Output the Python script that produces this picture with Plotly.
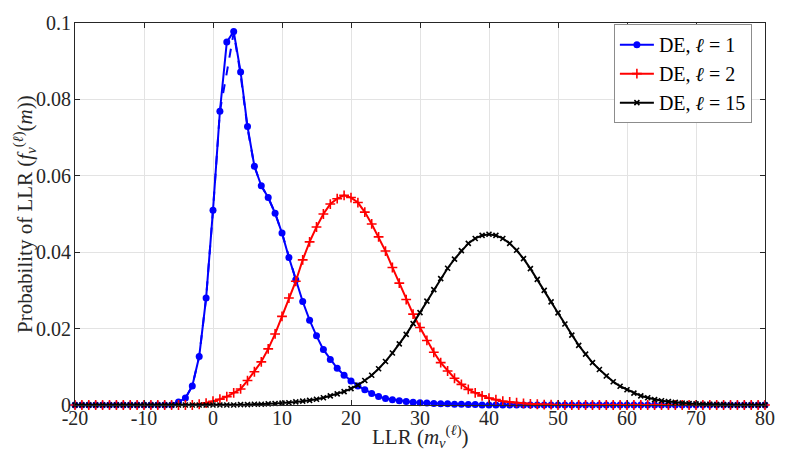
import plotly.graph_objects as go

x_vals = list(range(-20, 81))

blue_l1 = [0]*15 + [
    0.0008, 0.0018, 0.005, 0.0127, 0.028, 0.051, 0.0769, 0.095, 0.0978, 0.0872,
    0.0729, 0.0625, 0.0574, 0.0543, 0.0502, 0.045, 0.0386, 0.0328, 0.0271, 0.0222,
    0.0181, 0.0145, 0.0119, 0.0096, 0.0078, 0.0063, 0.005, 0.004, 0.003, 0.0022,
    0.0017, 0.0014, 0.0011, 0.0009, 0.0007, 0.0006, 0.0005, 0.0004, 0.0003, 0.0003,
    0.0002, 0.0002, 0.0001, 0.0001] + [0]*42

dash_x = list(range(-6, 13))
dash_l1 = [0.0002, 0.0008, 0.0018, 0.005, 0.0127, 0.028, 0.051, 0.0769, 0.087, 0.0975,
           0.0865, 0.0725, 0.0625, 0.0574, 0.0543, 0.0502, 0.045, 0.0386, 0.0328]

red_l2 = [0]*18 + [
    0.0002, 0.0005, 0.0010, 0.0015, 0.0022, 0.0032, 0.0042, 0.0064, 0.0087, 0.0113,
    0.0147, 0.0186, 0.0232, 0.028, 0.0324, 0.038, 0.0427, 0.0466, 0.05, 0.0526,
    0.054, 0.0549, 0.0543, 0.053, 0.0505, 0.0474, 0.044, 0.0403, 0.036, 0.0319,
    0.0276, 0.0238, 0.0203, 0.0169, 0.0138, 0.0111, 0.0089, 0.007, 0.0054, 0.0041,
    0.0032, 0.0024, 0.0018, 0.0014, 0.001, 0.0008, 0.0006, 0.0004, 0.0003, 0.0002,
    0.0001, 0.0001] + [0]*31

black_l15 = [0]*24 + [
    0.0001, 0.0001, 0.0002, 0.0002, 0.0003, 0.0004, 0.0005, 0.0006, 0.0008, 0.001,
    0.0012, 0.0015, 0.0019, 0.0024, 0.0029, 0.0035, 0.0043, 0.0052, 0.0064, 0.0078,
    0.0095, 0.0114, 0.0136, 0.016, 0.0185, 0.0213, 0.0242, 0.0272, 0.0302, 0.0331,
    0.0358, 0.0382, 0.0404, 0.0423, 0.0436, 0.0444, 0.0447, 0.0444, 0.0436, 0.0423,
    0.0405, 0.0383, 0.0357, 0.0329, 0.03, 0.027, 0.0241, 0.0212, 0.0183, 0.0156,
    0.0133, 0.0111, 0.0093, 0.0076, 0.0061, 0.0049, 0.004, 0.0031, 0.0024, 0.0019,
    0.0014, 0.0011, 0.0009, 0.0007, 0.0005, 0.0004, 0.0003, 0.0002, 0.0002, 0.0001,
    0.0001] + [0]*6

x_ticks = list(range(-20, 81, 10))
x_ticklabels = ["-20", "-10", "0", "10", "20", "30", "40", "50", "60", "70", "80"]
y_ticks = [0, 0.02, 0.04, 0.06, 0.08, 0.1]
y_ticklabels = ["0", "0.02", "0.04", "0.06", "0.08", "0.1"]

names = ["DE, <i>ℓ</i> = 1", "DE, <i>ℓ</i> = 2", "DE, <i>ℓ</i> = 15"]
x_title = "LLR (<i>m</i><sub><i>v</i></sub><sup>(<i>ℓ</i>)</sup>)"
y_title = "Probability of LLR (<i>f</i><sub><i>v</i></sub><sup>(<i>ℓ</i>)</sup>(<i>m</i>))"

FONT = "Liberation Serif, DejaVu Serif, serif"

fig = go.Figure()
fig.add_trace(go.Scatter(x=dash_x, y=dash_l1, mode="lines",
                         line=dict(color="#0000ff", width=2, dash="dash"),
                         showlegend=False, cliponaxis=False))
fig.add_trace(go.Scatter(x=x_vals, y=blue_l1, mode="lines+markers", name=names[0],
                         line=dict(color="#0000ff", width=2),
                         marker=dict(symbol="circle", size=7, color="#0000ff"),
                         cliponaxis=False))
fig.add_trace(go.Scatter(x=x_vals, y=red_l2, mode="lines+markers", name=names[1],
                         line=dict(color="#ff0000", width=2),
                         marker=dict(symbol="cross-thin", size=7,
                                     line=dict(color="#ff0000", width=1.6)),
                         cliponaxis=False))
fig.add_trace(go.Scatter(x=x_vals, y=black_l15, mode="lines+markers", name=names[2],
                         line=dict(color="#000000", width=2),
                         marker=dict(symbol="x-thin", size=5,
                                     line=dict(color="#000000", width=1.6)),
                         cliponaxis=False))

axis_common = dict(showline=True, linecolor="#262626", linewidth=1, mirror="ticks",
                   ticks="inside", ticklen=5, tickcolor="#262626",
                   showgrid=True, gridcolor="#e3e3e3", gridwidth=1, zeroline=False,
                   tickfont=dict(family=FONT, size=20, color="#262626"))

fig.update_xaxes(range=[-20, 80], tickvals=x_ticks, ticktext=x_ticklabels,
                 ticklabelstandoff=-5, **axis_common)
fig.update_yaxes(range=[0, 0.1], tickvals=y_ticks, ticktext=y_ticklabels,
                 ticklabelstandoff=-1, **axis_common)

fig.add_annotation(text=x_title, xref="paper", yref="paper", x=0.5, y=-0.082,
                   xanchor="center", yanchor="middle", showarrow=False,
                   font=dict(family=FONT, size=21, color="#262626"))
fig.add_annotation(text=y_title, xref="paper", yref="paper", x=-0.074, y=0.5,
                   xanchor="center", yanchor="middle", showarrow=False, textangle=-90,
                   font=dict(family=FONT, size=21, color="#262626"))

fig.update_layout(
    width=789, height=461,
    margin=dict(l=75, r=24, t=18, b=56),
    plot_bgcolor="white", paper_bgcolor="white",
    legend=dict(x=0.981, y=0.997, xanchor="right", yanchor="top",
                bgcolor="white", bordercolor="#8c8c8c", borderwidth=1,
                font=dict(family=FONT, size=20, color="#000000"),
                tracegroupgap=0, itemwidth=34),
    font=dict(family=FONT),
)

fig.write_html("out.html", config={"displayModeBar": False},
               post_script="document.body.style.margin='0';document.body.style.overflow='hidden';")
